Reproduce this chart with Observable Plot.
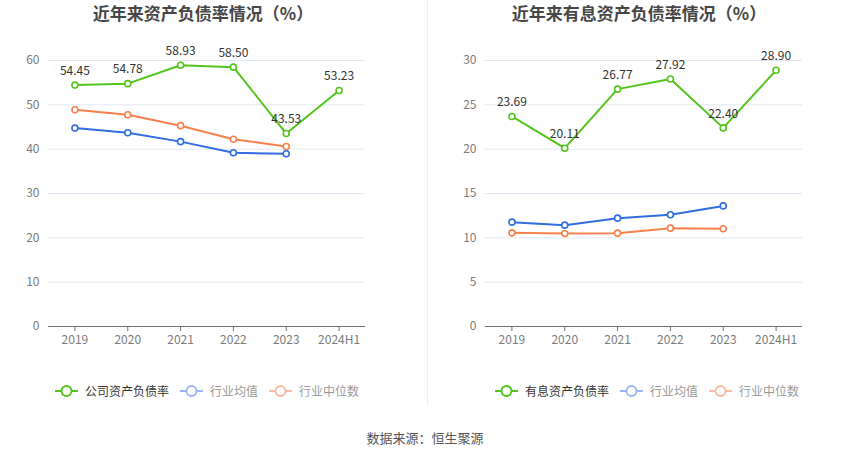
<!DOCTYPE html>
<html><head><meta charset="utf-8">
<script src="https://cdn.jsdelivr.net/npm/d3@7"></script>
<script src="https://cdn.jsdelivr.net/npm/@observablehq/plot@0.6"></script>
<style>
body{margin:0;background:#fff;font-family:"Noto Sans CJK SC","Noto Sans",sans-serif;}
#wrap{position:relative;width:850px;height:459px;overflow:hidden;}
.title{position:absolute;top:0px;font-size:17px;font-weight:bold;color:#464646;transform:translateX(-50%);white-space:nowrap;}
.chart{position:absolute;top:30px;}
.legend{position:absolute;top:382px;display:flex;align-items:center;font-size:12px;white-space:nowrap;}
.legend .item{display:flex;align-items:center;margin-right:11px;}
.legend svg{margin-right:7px;}
#divider{position:absolute;left:427px;top:0;width:1px;height:405px;background:#eeeeee;}
#source{position:absolute;top:428px;left:425px;transform:translateX(-50%);font-size:13px;color:#555;white-space:nowrap;}
</style></head>
<body><div id="wrap">
<div id="divider"></div>
<div class="title" style="left:203px">近年来资产负债率情况（%）</div>
<div class="title" style="left:639px">近年来有息资产负债率情况（%）</div>
<div class="chart" id="c1" style="left:0px"></div>
<div class="chart" id="c2" style="left:425px"></div>
<div class="legend" id="l1" style="left:55px"></div>
<div class="legend" id="l2" style="left:495px"></div>
<div id="source">数据来源：恒生聚源</div>
</div>
<script>
const years = ["2019","2020","2021","2022","2023","2024H1"];
const industryYears = ["2019","2020","2021","2022","2023"];
const debtRatio = [54.45, 54.78, 58.93, 58.50, 43.53, 53.23];
const debtIndustryAvg = [44.75, 43.7, 41.7, 39.2, 38.95];
const debtIndustryMedian = [48.9, 47.75, 45.3, 42.25, 40.6];
const interestRatio = [23.69, 20.11, 26.77, 27.92, 22.40, 28.90];
const interestIndustryAvg = [11.77, 11.43, 12.22, 12.6, 13.6];
const interestIndustryMedian = [10.56, 10.49, 10.53, 11.09, 11.02];
const leftTicks = [0,10,20,30,40,50,60];
const rightTicks = [0,5,10,15,20,25,30];
const legendLeft = ["公司资产负债率","行业均值","行业中位数"];
const legendRight = ["有息资产负债率","行业均值","行业中位数"];

const GREEN = "#52c41a", BLUE = "#2f6de1", ORANGE = "#f7804c";
const toRows = (xs, vs) => xs.map((x,i)=>({x, v: vs[i]}));

function makeChart(main, avg, med, ticks, ml, mr) {
  const a = toRows(years, main), b = toRows(industryYears, avg), c = toRows(industryYears, med);
  const dot = (data, color) => Plot.dot(data, {x:"x", y:"v", r:3, fill:"#fff", stroke:color, strokeWidth:1.6});
  const line = (data, color) => Plot.line(data, {x:"x", y:"v", stroke:color, strokeWidth:2});
  return Plot.plot({
    width: 425, height: 320,
    marginTop: 30, marginBottom: 24, marginLeft: ml, marginRight: mr,
    style: {fontFamily: "'Noto Sans CJK SC','Noto Sans',sans-serif", fontSize: "12px", background: "transparent"},
    x: {type: "point", domain: years, padding: 0.5, round: false, label: null},
    y: {domain: [ticks[0], ticks[ticks.length-1]], label: null},
    marks: [
      Plot.gridY(ticks, {stroke: "#e0e6f1", strokeOpacity: 1}),
      Plot.axisY(ticks, {tickSize: 0, tickPadding: 9, fill: "#7b7b7b", fontSize: 12, label: null}),
      Plot.ruleY([0], {stroke: "#6e7079", strokeWidth: 1}),
      Plot.axisX({tickSize: 5, tickPadding: 4, stroke: "#6e7079", fill: "#7b7b7b", fontSize: 12, label: null}),
      line(c, ORANGE), line(b, BLUE), line(a, GREEN),
      dot(c, ORANGE), dot(b, BLUE), dot(a, GREEN),
      Plot.text(a, {x:"x", y:"v", text: d => d.v.toFixed(2), dy: -14, fill: "#333", fontSize: 12})
    ]
  });
}

document.getElementById("c1").append(makeChart(debtRatio, debtIndustryAvg, debtIndustryMedian, leftTicks, 48, 60));
document.getElementById("c2").append(makeChart(interestRatio, interestIndustryAvg, interestIndustryMedian, rightTicks, 60, 48));

function legend(el, names) {
  const styles = [
    {c: GREEN, t: "#333"},
    {c: "#9ab7f0", t: "#999"},
    {c: "#f9bba3", t: "#999"}
  ];
  names.forEach((n, i) => {
    const s = styles[i];
    const item = document.createElement("div");
    item.className = "item";
    item.innerHTML = `<svg width="23" height="14"><line x1="0" y1="7" x2="23" y2="7" stroke="${s.c}" stroke-width="2"/><circle cx="11.5" cy="7" r="5" fill="#fff" stroke="${s.c}" stroke-width="2"/></svg><span style="color:${s.t}">${n}</span>`;
    el.append(item);
  });
}
legend(document.getElementById("l1"), legendLeft);
legend(document.getElementById("l2"), legendRight);
</script>
</body></html>
